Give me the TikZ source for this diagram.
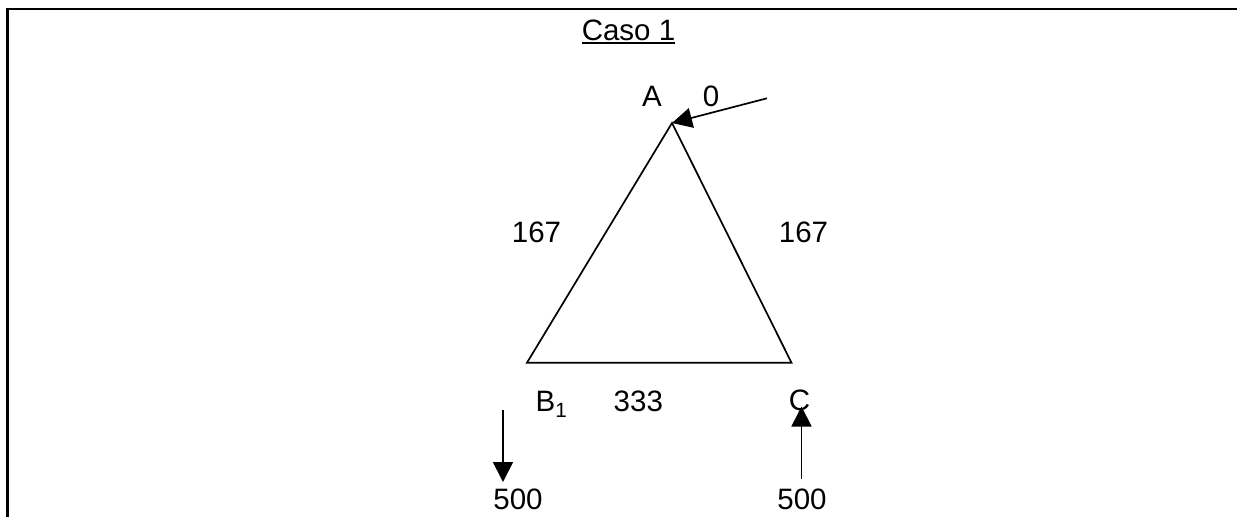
\documentclass[tikz,border=0pt]{standalone}
\usepackage{fontspec}
\setmainfont{Liberation Sans}
\usetikzlibrary{arrows.meta}
\begin{document}
\begin{tikzpicture}[x=1pt,y=-1pt,
  lbl/.style={anchor=base,inner sep=0pt,font=\fontsize{29.5}{34}\selectfont},
  edge/.style={line width=1.7pt},
  force/.style={line width=1.7pt,-{Triangle[length=20pt,width=20pt]}},
  frame/.style={line width=2.2pt}]
\useasboundingbox (0,0) rectangle (1237,517);
% frame
\coordinate (f1) at (7.5,517);
\coordinate (f2) at (7.5,9);
\coordinate (f3) at (1237,9);
\draw[frame] (f1) -- (f2) -- (f3);
% title
\node[lbl] (title) at (628.5,40) {Caso 1};
\draw[line width=2pt] ([yshift=-3pt]title.base west) -- ([yshift=-3pt]title.base east);
% triangle vertices
\coordinate (A) at (672,123);
\coordinate (B) at (527,362.7);
\coordinate (C) at (791.5,362.7);
\draw[edge,line join=miter] (A) -- (B) -- (C) -- cycle;
% labels
\node[lbl] (la) at (652,106.7) {A};
\node[lbl] (l0) at (711,106.7) {0};
\node[lbl] (l167a) at (536.5,242.7) {167};
\node[lbl] (l167b) at (803.5,242.7) {167};
\node[lbl,anchor=base west] (lb) at (535.5,411.7) {B\textsubscript{1}};
\node[lbl] (l333) at (638.3,411.7) {333};
\node[lbl] (lc) at (799.5,410.5) {C};
\node[lbl] (l500a) at (518,509.5) {500};
\node[lbl] (l500b) at (802,509.5) {500};
% force arrows
\coordinate (a0) at (767,98.3);
\draw[force] (a0) -- (A);
\coordinate (b0) at (503,410);
\coordinate (b1) at (503,482);
\draw[force] (b0) -- (b1);
\coordinate (c0) at (801.5,478.5);
\coordinate (c1) at (801.5,406.5);
\draw[force] (c0) -- (c1);
\end{tikzpicture}
\end{document}
